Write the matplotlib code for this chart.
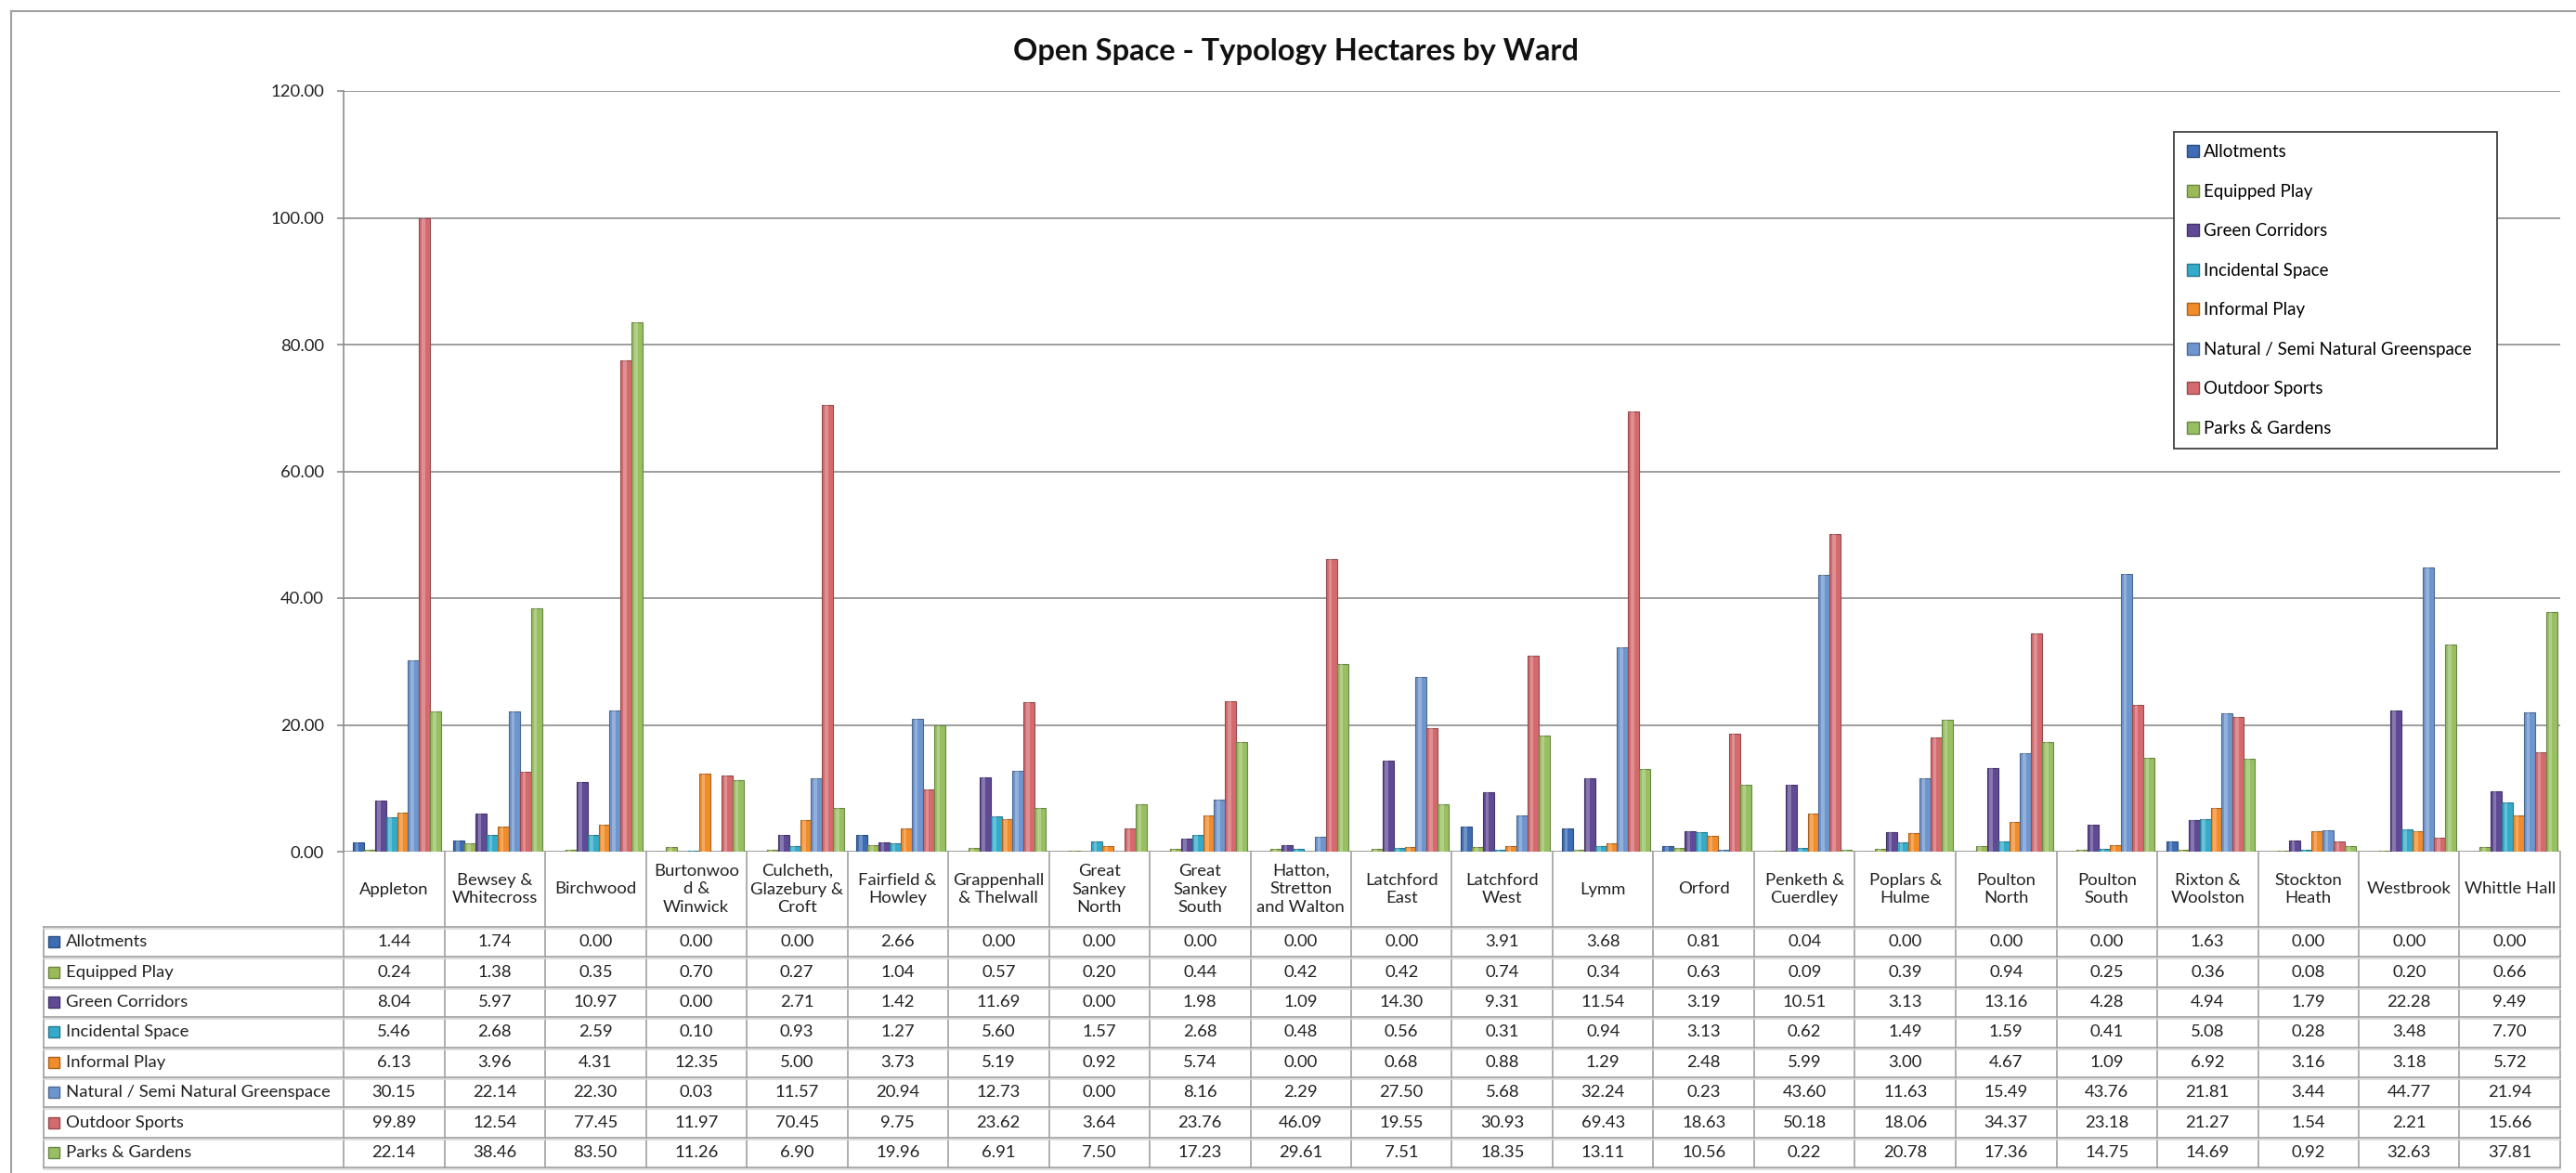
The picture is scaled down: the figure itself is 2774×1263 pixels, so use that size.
import matplotlib
matplotlib.use("Agg")
import matplotlib.pyplot as plt
import matplotlib.transforms as mtransforms
from matplotlib.lines import Line2D
from matplotlib.patches import Patch
import numpy as np

# ward names as wrapped in the chart's data table
wards = ["Appleton", "Bewsey &\nWhitecross", "Birchwood", "Burtonwoo\nd &\nWinwick",
         "Culcheth,\nGlazebury &\nCroft", "Fairfield &\nHowley", "Grappenhall\n& Thelwall",
         "Great\nSankey\nNorth", "Great\nSankey\nSouth", "Hatton,\nStretton\nand Walton",
         "Latchford\nEast", "Latchford\nWest", "Lymm", "Orford", "Penketh &\nCuerdley",
         "Poplars &\nHulme", "Poulton\nNorth", "Poulton\nSouth", "Rixton &\nWoolston",
         "Stockton\nHeath", "Westbrook", "Whittle Hall"]

allotments = [1.44, 1.74, 0.00, 0.00, 0.00, 2.66, 0.00, 0.00, 0.00, 0.00, 0.00, 3.91,
              3.68, 0.81, 0.04, 0.00, 0.00, 0.00, 1.63, 0.00, 0.00, 0.00]
equipped_play = [0.24, 1.38, 0.35, 0.70, 0.27, 1.04, 0.57, 0.20, 0.44, 0.42, 0.42, 0.74,
                 0.34, 0.63, 0.09, 0.39, 0.94, 0.25, 0.36, 0.08, 0.20, 0.66]
green_corridors = [8.04, 5.97, 10.97, 0.00, 2.71, 1.42, 11.69, 0.00, 1.98, 1.09, 14.30, 9.31,
                   11.54, 3.19, 10.51, 3.13, 13.16, 4.28, 4.94, 1.79, 22.28, 9.49]
incidental_space = [5.46, 2.68, 2.59, 0.10, 0.93, 1.27, 5.60, 1.57, 2.68, 0.48, 0.56, 0.31,
                    0.94, 3.13, 0.62, 1.49, 1.59, 0.41, 5.08, 0.28, 3.48, 7.70]
informal_play = [6.13, 3.96, 4.31, 12.35, 5.00, 3.73, 5.19, 0.92, 5.74, 0.00, 0.68, 0.88,
                 1.29, 2.48, 5.99, 3.00, 4.67, 1.09, 6.92, 3.16, 3.18, 5.72]
natural_green = [30.15, 22.14, 22.30, 0.03, 11.57, 20.94, 12.73, 0.00, 8.16, 2.29, 27.50, 5.68,
                 32.24, 0.23, 43.60, 11.63, 15.49, 43.76, 21.81, 3.44, 44.77, 21.94]
outdoor_sports = [99.89, 12.54, 77.45, 11.97, 70.45, 9.75, 23.62, 3.64, 23.76, 46.09, 19.55, 30.93,
                  69.43, 18.63, 50.18, 18.06, 34.37, 23.18, 21.27, 1.54, 2.21, 15.66]
parks_gardens = [22.14, 38.46, 83.50, 11.26, 6.90, 19.96, 6.91, 7.50, 17.23, 29.61, 7.51, 18.35,
                 13.11, 10.56, 0.22, 20.78, 17.36, 14.75, 14.69, 0.92, 32.63, 37.81]

series_names = ["Allotments", "Equipped Play", "Green Corridors", "Incidental Space",
                "Informal Play", "Natural / Semi Natural Greenspace", "Outdoor Sports",
                "Parks & Gardens"]
series_values = [allotments, equipped_play, green_corridors, incidental_space,
                 informal_play, natural_green, outdoor_sports, parks_gardens]
series_colors = ["#3E6DB4", "#9BBB59", "#604A95", "#35ABC9",
                 "#F18C2B", "#6E96CE", "#D46A6E", "#98BF62"]
y_ticks = [0, 20, 40, 60, 80, 100, 120]

W, H = 2774, 1263
plt.rcParams['font.family'] = ['Lato', 'DejaVu Sans']
fig = plt.figure(figsize=(W / 100, H / 100), dpi=100)
fig.patch.set_facecolor("white")


def fy(px):
    # pixel row -> figure fraction
    return 1 - px / H


def darker(col, f=0.7):
    return tuple(c * f for c in matplotlib.colors.to_rgb(col))


ax_left, ax_right, ax_top, ax_bot = 370, 2757, 98, 917
ax = fig.add_axes([ax_left / W, fy(ax_bot), (ax_right - ax_left) / W, (ax_bot - ax_top) / H])

x = np.arange(len(wards))
n = len(series_names)
group = 0.88
bw = group / n
for i, (name, vals, col) in enumerate(zip(series_names, series_values, series_colors)):
    pos = x - group / 2 + bw * (i + 0.5) + 0.03
    ax.bar(pos, vals, width=bw, color=col, edgecolor=darker(col), linewidth=0.8, zorder=3)
    # light streak to hint at the cylinder shape
    ax.bar(pos - bw * 0.12, vals, width=bw * 0.3, color="white", alpha=0.25,
           linewidth=0, zorder=4)

ax.set_xlim(-0.5, len(wards) - 0.5)
ax.set_ylim(0, 120)
ax.set_yticks(y_ticks)
ax.set_yticklabels([f"{v:.2f}" for v in y_ticks], fontsize=13.3, color="#222222")
ax.set_xticks([])
ax.yaxis.grid(True, color="#8C8C8C", linewidth=1.2, zorder=0)
ax.set_axisbelow(True)
for s in ["top", "right", "bottom"]:
    ax.spines[s].set_visible(False)
ax.spines["left"].set_color("#8C8C8C")
ax.spines["left"].set_linewidth(1.2)
ax.tick_params(axis="y", length=5, width=1.2, color="#8C8C8C", pad=10)

fig.text(0.503, fy(55), "Open Space - Typology Hectares by Ward", ha="center", va="center",
         fontsize=23.5, fontweight="bold", color="#111111")

# legend
handles = [Patch(facecolor=c, edgecolor=darker(c)) for c in series_colors]
leg = fig.legend(handles, series_names, loc="upper left",
                 bbox_to_anchor=(2332 / W, fy(134), (2698 - 2332) / W, 0.001),
                 mode="expand", fontsize=13.5, handlelength=0.7, handleheight=0.7,
                 handletextpad=0.3, labelspacing=1.36, borderpad=0.7, fancybox=False,
                 framealpha=1, edgecolor="#404040")
leg.get_frame().set_linewidth(1.3)

# data table below the plot
tr = mtransforms.blended_transform_factory(ax.transData, fig.transFigure)
col_w = (ax_right - ax_left) / len(wards)
x_tab = -0.5 - (ax_left - 47) / col_w
x_end = len(wards) - 0.5
row_top, row_h = 998, 32.4
n_rows = len(series_names)
tab_bot = row_top + n_rows * row_h
line_kw = dict(color="#A0A0A0", linewidth=1.2, transform=tr, clip_on=False)
shade_kw = dict(color="#D8D8D8", linewidth=1.2, transform=tr, clip_on=False)

for k in range(len(wards) + 1):
    ax.plot([-0.5 + k, -0.5 + k], [fy(ax_bot), fy(tab_bot)], **line_kw)
ax.plot([x_tab, x_tab], [fy(row_top), fy(tab_bot)], **line_kw)
for r in range(n_rows + 1):
    yy = row_top + r * row_h
    ax.plot([x_tab, x_end], [fy(yy), fy(yy)], **line_kw)
    ax.plot([x_tab, x_end], [fy(yy + 2), fy(yy + 2)], **shade_kw)

for i, w in enumerate(wards):
    ax.text(i, fy((ax_bot + row_top) / 2), w, transform=tr, ha="center", va="center",
            fontsize=13.3, linespacing=1.3, color="#222222")

for r, (name, vals, col) in enumerate(zip(series_names, series_values, series_colors)):
    yc = fy(row_top + (r + 0.5) * row_h)
    ax.plot([x_tab + 0.1], [yc], marker="s", markersize=8.5, color=col,
            markeredgecolor=darker(col), transform=tr, clip_on=False)
    ax.text(x_tab + 0.22, yc, name, transform=tr, ha="left", va="center", fontsize=13.3,
            color="#222222")
    for i, v in enumerate(vals):
        ax.text(i, yc, f"{v:.2f}", transform=tr, ha="center", va="center", fontsize=13.3,
                color="#222222")

# chart area border (top and left edges visible)
fig.add_artist(Line2D([12 / W, 1], [fy(12), fy(12)], color="#A0A0A0", linewidth=1.5))
fig.add_artist(Line2D([12 / W, 12 / W], [fy(12), 0], color="#A0A0A0", linewidth=1.5))

fig.savefig("out.png", dpi=100, facecolor="white")
